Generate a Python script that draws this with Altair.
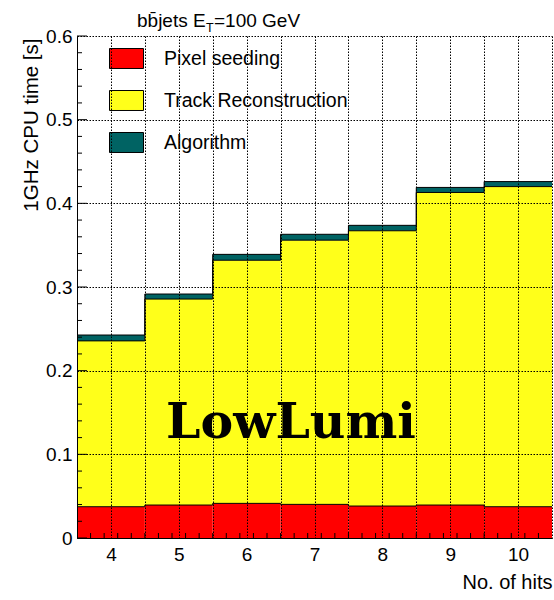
import altair as alt
import pandas as pd
import numpy as np

# ---- data ----
hits = [4, 5, 6, 7, 8, 9, 10]
pixel = [0.0374, 0.0394, 0.0414, 0.0402, 0.0382, 0.0394, 0.0374]
track = [0.1982, 0.2462, 0.2906, 0.3158, 0.3290, 0.3736, 0.3826]
algo = [0.0070, 0.0060, 0.0070, 0.0070, 0.0065, 0.0060, 0.0060]
series = ["Pixel seeding", "Track Reconstruction", "Algorithm"]
colors = ["#ff0000", "#ffff1a", "#006363"]
y_ticks = [0, 0.1, 0.2, 0.3, 0.4, 0.5, 0.6]

# ---- build tables ----
rows = []
for i, h in enumerate(hits):
    base = 0.0
    for s, vals in zip(series, [pixel, track, algo]):
        rows.append(dict(series=s, lo=h - 0.5, hi=h + 0.5, y0=base, y1=base + vals[i]))
        base += vals[i]
bars = pd.DataFrame(rows)

orows = []
for s in series:
    sub = bars[bars.series == s]
    for _, r in sub.iterrows():
        orows.append(dict(series=s, edge=r.lo, top=r.y1))
    last = sub.iloc[-1]
    orows.append(dict(series=s, edge=last.hi, top=last.y1))
outline = pd.DataFrame(orows)

x_grid = list(np.round(np.arange(hits[0] - 0.5, hits[-1] + 0.51, 0.5), 2))
x_minor = pd.DataFrame({"v": np.round(np.arange(hits[0] - 0.3, hits[-1] + 0.45, 0.2), 2)})
y_minor = pd.DataFrame({"v": [v for v in np.round(np.arange(0.02, 0.6, 0.02), 2) if round(v * 10, 6) % 1 != 0]})
y_major = pd.DataFrame({"v": y_ticks})

W, H = 475, 502
FONT = "Liberation Sans"
DASH = [1.5, 1.5]

xs = alt.Scale(domain=[3.5, 10.5], nice=False, zero=False)
ys = alt.Scale(domain=[0, 0.6], nice=False)

xaxis = alt.Axis(
    values=x_grid, labelExpr="datum.value % 1 == 0 ? format(datum.value, 'd') : ''",
    ticks=False, labelPadding=7, labelFontSize=19, labelFont=FONT, labelColor="black",
    labelFlush=False, grid=True, gridDash=DASH, gridColor="black", gridOpacity=1,
    domainColor="black", domainWidth=1, zindex=1,
    title="No. of hits", titleFont=FONT, titleFontSize=20, titleFontWeight="normal",
    titleColor="black", titleAnchor="end", titleAlign="right", titleX=W, titleY=50,
    titleBaseline="alphabetic",
)
yaxis = alt.Axis(
    values=y_ticks, format=".1~f", ticks=False, labelPadding=5, labelFontSize=19,
    labelFont=FONT, labelColor="black", labelFlush=False, grid=True, gridDash=DASH,
    gridColor="black", gridOpacity=1, domainColor="black", domainWidth=1, zindex=1,
    title="1GHz CPU time [s]", titleFont=FONT, titleFontSize=20.5, titleFontWeight="normal",
    titleColor="black", titleAnchor="end", titleAlign="right", titleAngle=270,
    titleX=-40, titleY=2, titleBaseline="alphabetic",
)

cscale = alt.Scale(domain=series, range=colors)

rect = alt.Chart(bars).mark_rect(strokeWidth=0).encode(
    x=alt.X("lo:Q", scale=xs, axis=xaxis),
    x2="hi:Q",
    y=alt.Y("y0:Q", scale=ys, axis=yaxis),
    y2="y1:Q",
    color=alt.Color(
        "series:N", scale=cscale,
        legend=alt.Legend(
            orient="none", legendX=32, legendY=5, title=None, padding=0,
            symbolType="M-1,-0.588L1,-0.588L1,0.588L-1,0.588Z", symbolSize=1156,
            symbolStrokeColor="black", symbolStrokeWidth=1, symbolOpacity=1,
            labelFont=FONT, labelFontSize=19.5, labelColor="black", labelOffset=20,
            rowPadding=12, labelLimit=400,
        ),
    ),
)

lines = alt.Chart(outline).mark_line(interpolate="step-after", color="black", strokeWidth=1).encode(
    x=alt.X("edge:Q", scale=xs, axis=xaxis),
    y=alt.Y("top:Q", scale=ys, axis=yaxis),
    detail="series:N",
)

xt = alt.Chart(x_minor).mark_rule(color="black", strokeWidth=1).encode(
    x=alt.X("v:Q", scale=xs, axis=xaxis), y=alt.value(H), y2=alt.value(H - 5)
)
ytm = alt.Chart(y_minor).mark_rule(color="black", strokeWidth=1).encode(
    y=alt.Y("v:Q", scale=ys, axis=yaxis), x=alt.value(0), x2=alt.value(5)
)
ytM = alt.Chart(y_major).mark_rule(color="black", strokeWidth=1).encode(
    y=alt.Y("v:Q", scale=ys, axis=yaxis), x=alt.value(0), x2=alt.value(10)
)

def label(txt, x, y, size, font=FONT, weight="normal", align="left"):
    return alt.Chart(pd.DataFrame({"t": [txt]})).mark_text(
        font=font, fontSize=size, fontWeight=weight, align=align, baseline="alphabetic",
        color="black",
    ).encode(text="t:N", x=alt.value(x), y=alt.value(y))

t1 = label("bb\u0304jets E", 60, -9, 19)
t2 = label("T", 129, -4, 12.5)
t3 = label("=100 GeV", 137, -9, 19)
lowlumi = label("LowLumi", 214, 402, 49, font="DejaVu Serif", weight="bold", align="center")

chart = alt.layer(rect, lines, xt, ytm, ytM, t1, t2, t3, lowlumi).properties(
    width=W, height=H, autosize="none",
    padding={"left": 77, "top": 36, "right": 2, "bottom": 62},
    background="white",
).configure_view(stroke=None)

chart.save("out.html", embed_options={"renderer": "svg", "actions": False})
